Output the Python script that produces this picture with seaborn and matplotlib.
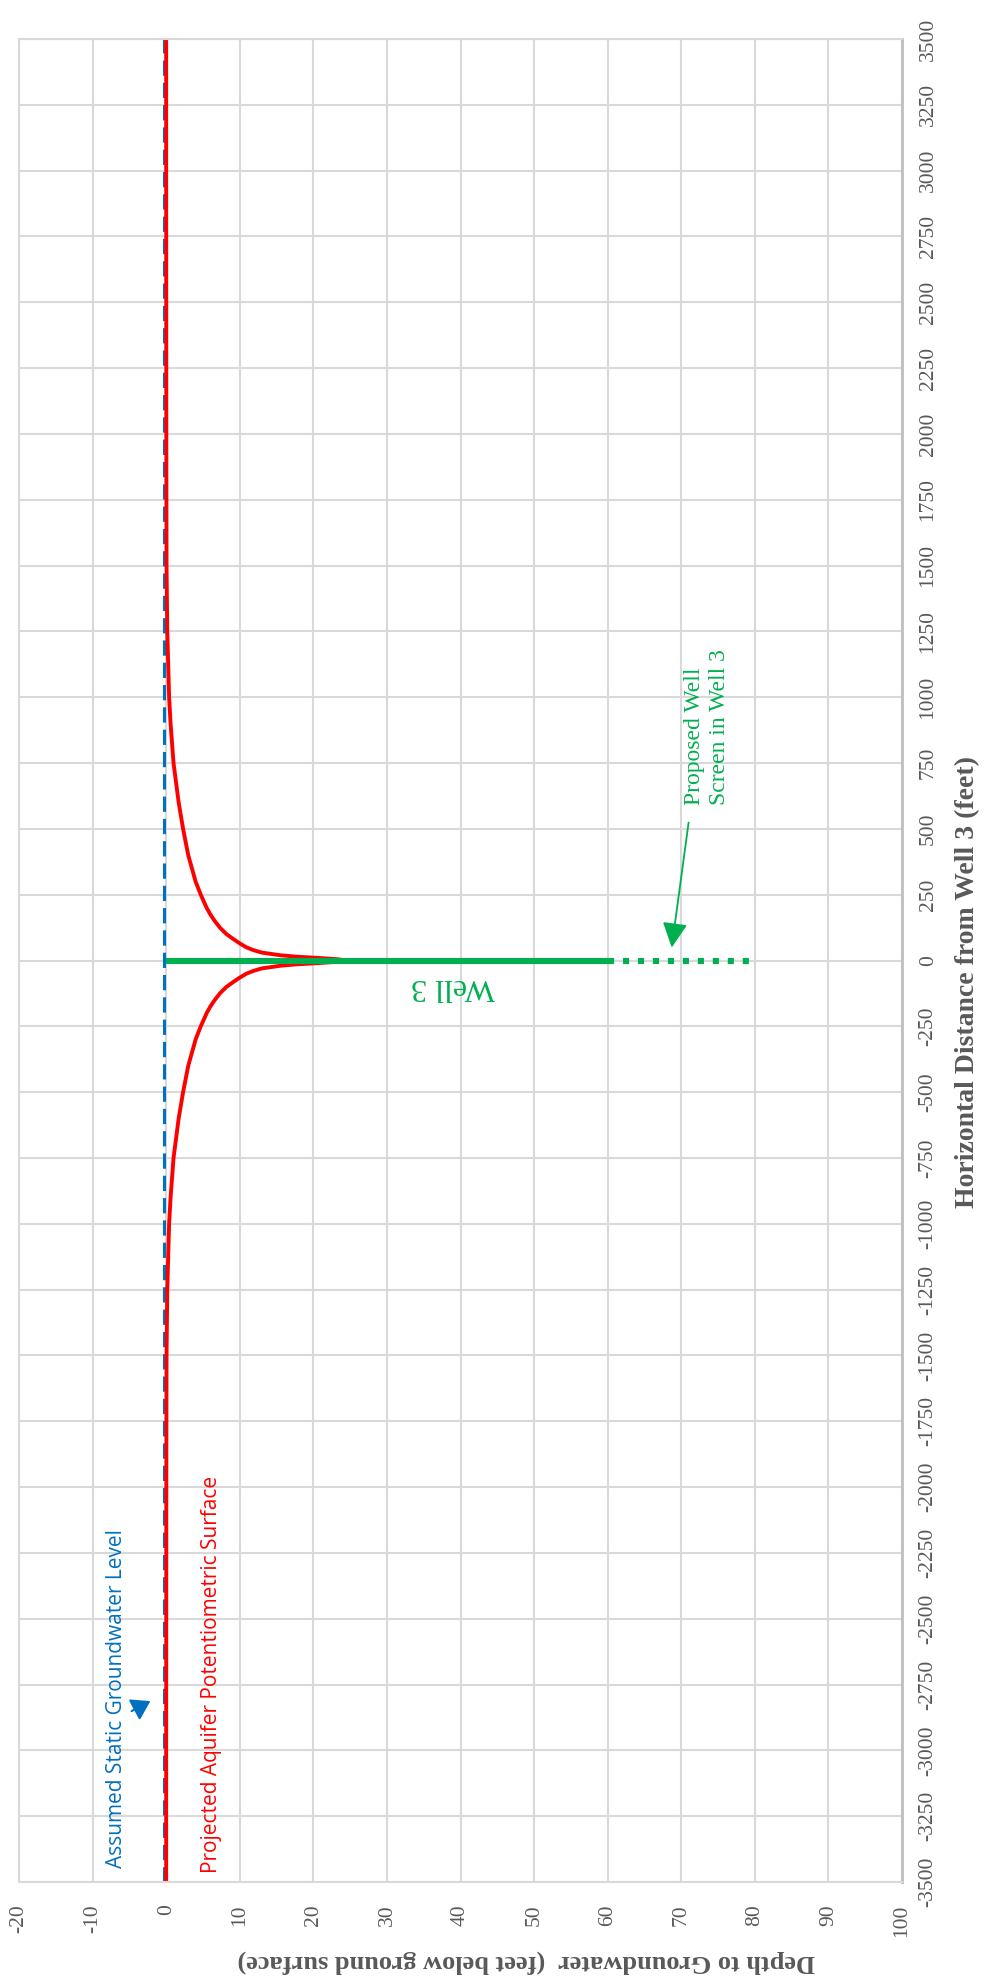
import matplotlib
matplotlib.use("Agg")
import matplotlib.pyplot as plt
import seaborn as sns
import numpy as np

# ---------------- data ----------------
depth_ticks = [-20, -10, 0, 10, 20, 30, 40, 50, 60, 70, 80, 90, 100]
distance_ticks = [-3500, -3250, -3000, -2750, -2500, -2250, -2000, -1750, -1500, -1250,
                  -1000, -750, -500, -250, 0, 250, 500, 750, 1000, 1250, 1500, 1750,
                  2000, 2250, 2500, 2750, 3000, 3250, 3500]

# Projected aquifer potentiometric surface (distance ft, depth ft bgs)
surface_distance = [-3500, -3000, -2500, -2000, -1500, -1250, -1000, -900, -750, -600, -500,
                    -400, -350, -300, -250, -200, -175, -150, -125, -100, -80, -65, -50, -40, -30,
                    -20, -15, -10, -5, 0,
                    5, 10, 15, 20, 30, 40, 50, 65, 80, 100, 125, 150, 175, 200, 250, 300, 350,
                    400, 500, 600, 750, 900, 1000, 1250, 1500, 2000, 2500, 3000, 3500]
surface_depth = [0.0, 0.0, 0.01, 0.02, 0.05, 0.15, 0.4, 0.6, 1.0, 1.7, 2.3,
                 3.0, 3.5, 4.0, 4.7, 5.5, 6.0, 6.6, 7.3, 8.2, 9.2, 10.0, 10.9, 11.8, 13.0,
                 15.5, 17.5, 20.5, 23.2, 24.5,
                 23.2, 20.5, 17.5, 15.5, 13.0, 11.8, 10.9, 10.0, 9.2, 8.2, 7.3, 6.6, 6.0, 5.5, 4.7, 4.0, 3.5,
                 3.0, 2.3, 1.7, 1.0, 0.6, 0.4, 0.15, 0.05, 0.02, 0.01, 0.0, 0.0]

# Assumed static groundwater level
static_distance = [-3500, 3500]
static_depth = [-0.3, -0.3]

# Well 3 casing and proposed screen
well_distance = [0, 0]
well_depth = [0, 60]
screen_distance = [0, 0]
screen_depth = [60, 80]

# ---------------- style ----------------
BLUE = "#0070C0"
RED = "#FF0000"
GREEN = "#00B050"
GRAY = "#595959"
GRID = "#D9D9D9"

sns.set_theme(style="whitegrid", rc={
    "grid.color": GRID,
    "grid.linewidth": 1.5,
    "axes.edgecolor": GRID,
    "axes.linewidth": 1.5,
})
plt.rcParams["axes.unicode_minus"] = False
plt.rcParams["font.family"] = ["Liberation Serif", "DejaVu Serif"]

fig = plt.figure(figsize=(9.84, 19.77), dpi=100)
ax = fig.add_axes([19 / 984, 1 - 1882 / 1977, (902 - 19) / 984, (1882 - 39) / 1977])

sns.lineplot(x=static_depth, y=static_distance, sort=False, estimator=None, ax=ax,
             color=BLUE, linewidth=2.2, linestyle=(0, (5, 2.3)))
sns.lineplot(x=surface_depth, y=surface_distance, sort=False, estimator=None, ax=ax,
             color=RED, linewidth=2.8)
sns.lineplot(x=well_depth, y=well_distance, sort=False, estimator=None, ax=ax,
             color=GREEN, linewidth=4.4, solid_capstyle="butt")
sns.lineplot(x=screen_depth, y=screen_distance, sort=False, estimator=None, ax=ax,
             color=GREEN, linewidth=4.4, linestyle=(0, (1.0, 1.45)), dash_capstyle="butt")

ax.set_xlim(-20, 100)
ax.set_ylim(-3500, 3500)
ax.set_xticks(depth_ticks)
ax.set_yticks(distance_ticks)
ax.set_xticklabels([str(v) for v in depth_ticks])
ax.set_yticklabels([str(v) for v in distance_ticks])
ax.yaxis.tick_right()
ax.tick_params(axis="both", length=0, labelsize=15.5, labelcolor=GRAY)
ax.tick_params(axis="x", pad=16)
ax.tick_params(axis="y", pad=12)
for lab in ax.get_xticklabels():
    lab.set_rotation(90)
    lab.set_ha("center")
    lab.set_va("top")
for lab in ax.get_yticklabels():
    lab.set_rotation(90)
    lab.set_ha("left")
    lab.set_va("center")
ax.set_xlabel("")
ax.set_ylabel("")
ax.grid(True, color=GRID, linewidth=1.5)
ax.set_axisbelow(True)
for side in ["left", "top", "bottom"]:
    ax.spines[side].set_color(GRID)
ax.spines["right"].set_color("#BFBFBF")
ax.spines["right"].set_linewidth(2)

# axis titles
fig.text(968 / 984, 1 - 982 / 1977, "Horizontal Distance from Well 3 (feet)",
         rotation=90, ha="center", va="center", fontsize=20, fontweight="bold",
         color=GRAY)
fig.text(526 / 984, 1 - 1962 / 1977, "Depth to Groundwater  (feet below ground surface)",
         rotation=180, ha="center", va="center", fontsize=19, fontweight="bold",
         color=GRAY)

# annotations
sans = ["Open Sans", "DejaVu Sans"]
ax.text(-6.7, -3445, "Assumed Static Groundwater Level", rotation=90, ha="center",
        va="bottom", fontsize=15, color=BLUE, family=sans)
ax.annotate("", xy=(-2.15, -2813), xytext=(-4.7, -2851),
            arrowprops=dict(arrowstyle="-|>,head_length=0.7,head_width=0.45",
                            color=BLUE, lw=1.5, mutation_scale=16, shrinkA=0, shrinkB=0))
ax.text(6.2, -3464, "Projected Aquifer Potentiometric Surface", rotation=90, ha="center",
        va="bottom", fontsize=15, color=RED, family=sans)

ax.text(73.5, 592, "Proposed Well\nScreen in Well 3", rotation=90, ha="center",
        va="bottom", multialignment="left", fontsize=17, color=GREEN,
        linespacing=1.2)
ax.annotate("", xy=(68.7, 49), xytext=(71.0, 524),
            arrowprops=dict(arrowstyle="-|>,head_length=0.9,head_width=0.45",
                            color=GREEN, lw=1.3, mutation_scale=17, shrinkA=0, shrinkB=0))
ax.text(39.0, -99, "Well 3", rotation=180, ha="center", va="center",
        fontsize=23, color=GREEN)

fig.savefig("out.png", dpi=100)
